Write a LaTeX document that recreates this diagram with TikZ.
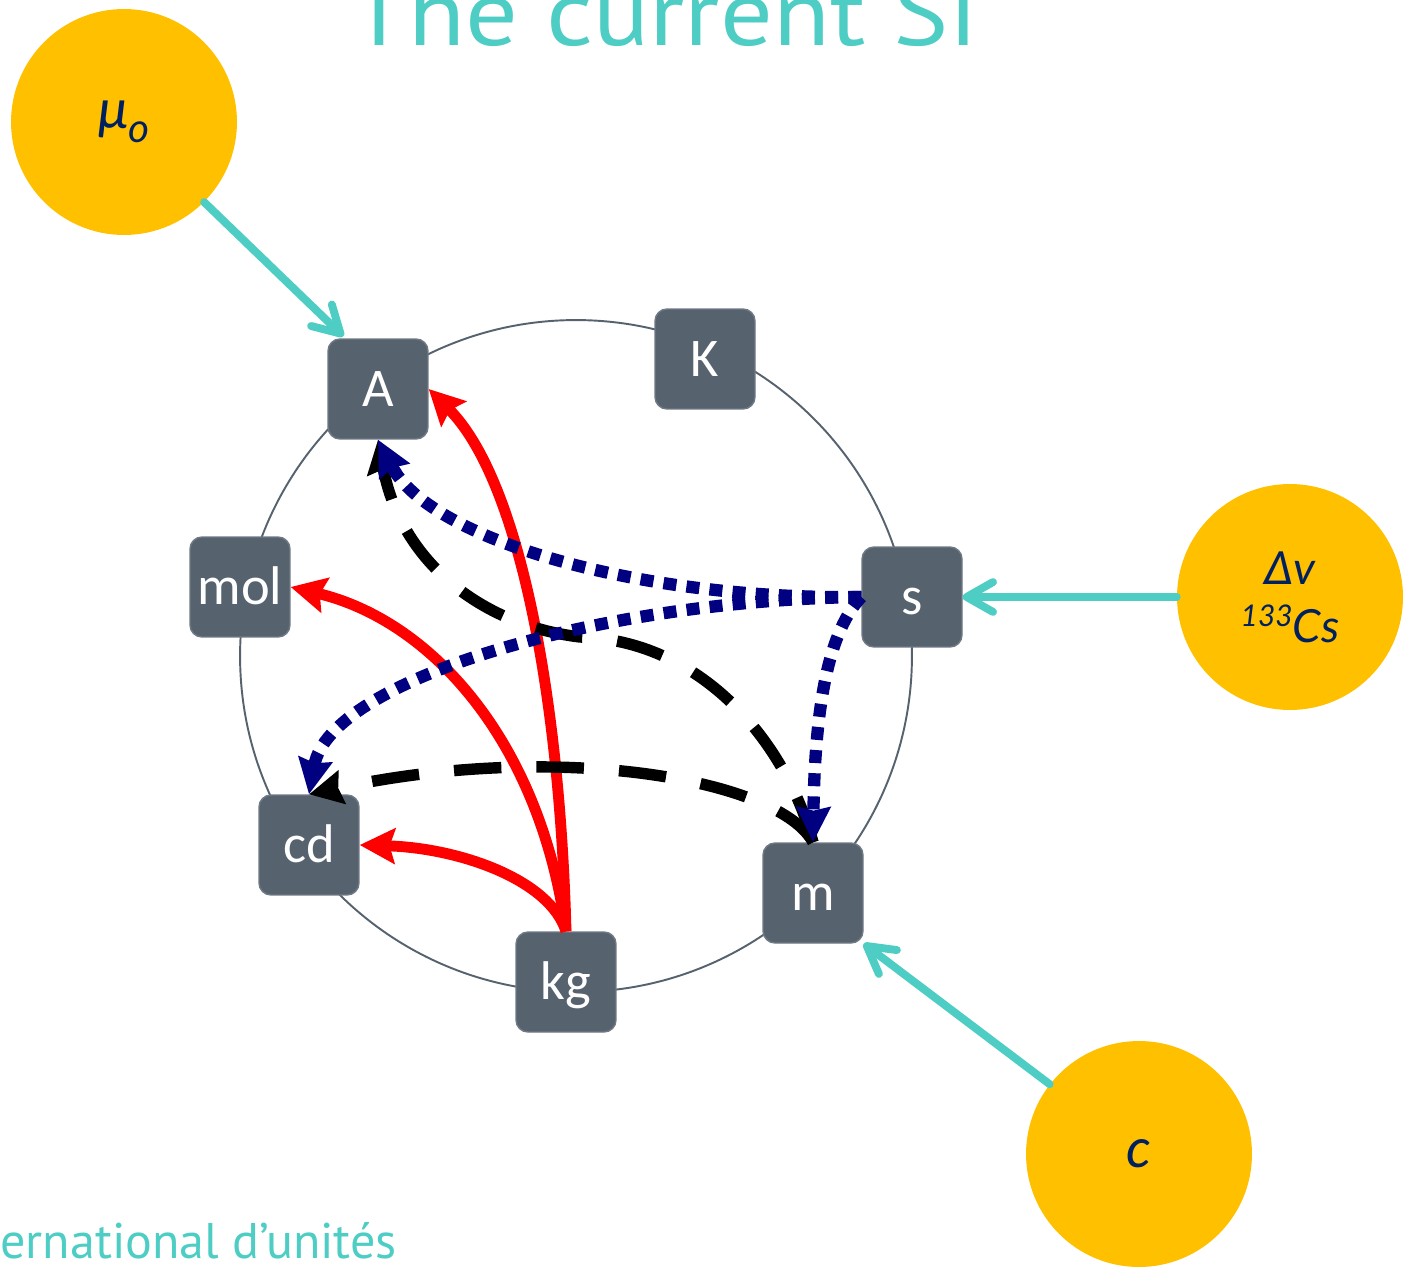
\documentclass[tikz,border=0pt]{standalone}
\usepackage{fontspec}
\setmainfont{Carlito}
\newfontfamily\titlefont{PT Sans}
\newfontfamily\circfont{Lato}
\usetikzlibrary{arrows.meta}
\definecolor{teal1}{HTML}{4ECDC4}
\definecolor{boxgray}{HTML}{56636F}
\definecolor{gold}{HTML}{FFC000}
\definecolor{navytext}{HTML}{002060}
\definecolor{navyline}{HTML}{000080}
\begin{document}
\begin{tikzpicture}[x=0.02cm,y=-0.02cm,
  unitbox/.style={fill=boxgray, draw=boxgray!85!white, line width=0.8pt, rounded corners=6.8pt,
    minimum size=2cm, inner sep=0pt, text=white, font=\fontsize{31}{31}\selectfont,
    text height=20pt, text depth=0pt},
  constant/.style={circle, fill=gold, minimum size=4.52cm, inner sep=0pt, text=navytext,
    font=\circfont\itshape\fontsize{26}{33}\selectfont, align=center},
  tealarrow/.style={draw=teal1, line width=4.5pt, line cap=round,
    -{Straight Barb[length=15pt,width=17pt,line cap=round,line join=round]}},
  redarrow/.style={draw=red, line width=6.2pt, -{Stealth[length=20pt,width=20pt,inset=3pt]}},
  bluearrow/.style={draw=navyline, line width=7pt, dash pattern=on 7.4pt off 5.8pt,
    -{Stealth[length=20pt,width=19pt,inset=2pt]}},
  blackarrow/.style={draw=black, line width=6.5pt, dash pattern=on 27pt off 20pt,
    -{Stealth[length=19pt,width=19pt,inset=2pt]}},
  textline/.style={anchor=base west, text=teal1, inner sep=0pt}
]
\useasboundingbox (0,0) rectangle (1409,1267);

% title and footer
\node[textline, font=\titlefont\fontsize{53}{53}\selectfont] (title) at (350,46) {\scalebox{1.12}[1]{The current SI}};
\node[textline, font=\titlefont\fontsize{28.5}{28.5}\selectfont] (foot) at (0,1258) {ernational d’unités};

% ring
\node[circle, draw=boxgray, line width=1.1pt, minimum size=13.44cm, inner sep=0pt] (ring) at (576,656) {};

% base units
\node[unitbox] (A)   at (378,389) {A};
\node[unitbox] (K)   at (705,359) {K};
\node[unitbox] (mol) at (240,587) {mol};
\node[unitbox] (s)   at (912,597) {s};
\node[unitbox] (cd)  at (309,845) {cd};
\node[unitbox] (m)   at (813,893) {m};
\node[unitbox] (kg)  at (566,982) {kg};

% constants
\node[constant, font=\circfont\itshape\fontsize{31}{31}\selectfont] (mu) at (124,122) {μ\raisebox{-8pt}{\fontsize{23}{23}\selectfont o}};
\node[constant] (cs) at (1290,597) {Δv\\\raisebox{9pt}{\fontsize{17}{17}\selectfont 133}Cs};
\node[constant, font=\circfont\itshape\fontsize{31}{31}\selectfont] (cc) at (1139,1154) {c};

% teal arrows
\draw[tealarrow] (mu.-45) -- ([xshift=0.32cm,yshift=0.04cm]A.north west);
\draw[tealarrow] (cs.west) -- (s.east);
\draw[tealarrow] (cc.142.8) -- (m.south east);

% red arrows (kg)
\draw[redarrow] (kg.north) .. controls (560,700) and (520,480) .. (A.east);
\draw[redarrow] (kg.north) .. controls (540,740) and (430,620) .. (mol.east);
\draw[redarrow] (kg.north) .. controls (550,880) and (460,848) .. (cd.east);

% black dashed arrows (m)
\draw[blackarrow] (m.north) .. controls (785,740) and (700,640) .. (580,637)
   .. controls (480,625) and (400,560) .. (A.south);
\draw[blackarrow] (m.north) .. controls (780,780) and (560,740) .. (cd.north);

% blue dotted arrows (s)
\draw[bluearrow] (s.west) .. controls (640,600) and (430,540) .. (A.south);
\draw[bluearrow] (s.west) .. controls (600,600) and (330,680) .. (cd.north);
\draw[bluearrow] (s.west) .. controls (830,630) and (815,700) .. (m.north);
\end{tikzpicture}
\end{document}
